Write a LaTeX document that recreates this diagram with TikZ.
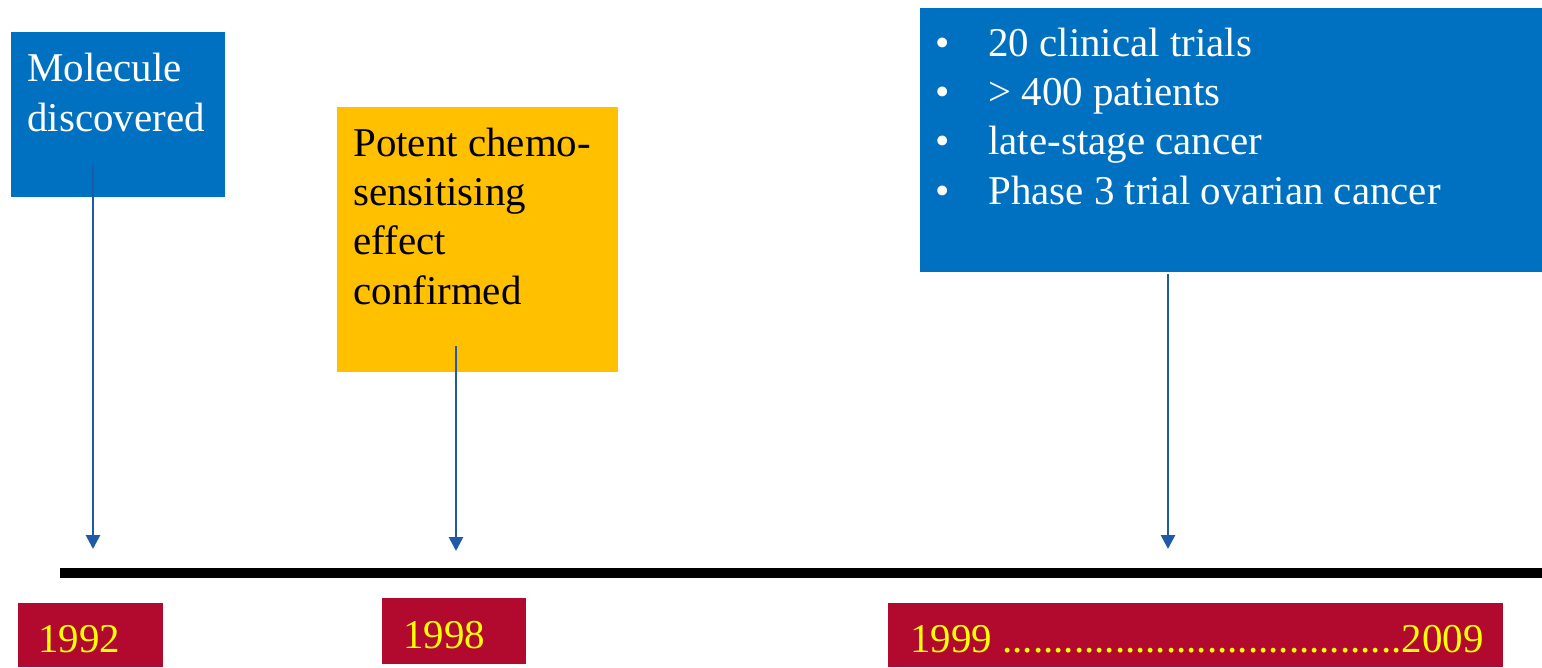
\documentclass[tikz,border=0pt]{standalone}
\usepackage{fontspec}
\setmainfont{Liberation Serif}
\usetikzlibrary{arrows.meta}
\definecolor{boxblue}{RGB}{0,112,192}
\definecolor{boxorange}{RGB}{255,192,0}
\definecolor{yearred}{RGB}{178,9,46}
\definecolor{yearyellow}{RGB}{255,255,0}
\definecolor{arrowblue}{RGB}{31,90,168}
\newcommand{\bul}{\makebox[1.06cm][l]{\textbullet}}

\begin{document}
\begin{tikzpicture}[x=0.02cm, y=-0.02cm, every node/.style={font=\fontsize{23.3}{27.9}\selectfont}]
		\tikzstyle{box}=[anchor=north west, inner sep=0pt, draw=none]
		\tikzstyle{txt}=[anchor=base west, inner sep=0pt, align=left]
		\tikzstyle{yearbox}=[box, fill=yearred]
		\tikzstyle{pointer}=[arrowblue, line width=0.055cm, -{Triangle[length=0.28cm, width=0.28cm]}]
		\useasboundingbox (0,0) rectangle (1542,667);
		\node[box, fill=boxblue, minimum width=4.28cm, minimum height=3.30cm] (molbox) at (11,32) {};
		\node[txt, white] (moltext) at (27,131) {Molecule\\discovered};
		\node[box, fill=boxorange, minimum width=5.62cm, minimum height=5.30cm] (chembox) at (337,107) {};
		\node[txt, black] (chemtext) at (353,304) {Potent chemo-\\sensitising\\effect\\confirmed};
		\node[box, fill=boxblue, minimum width=12.44cm, minimum height=5.28cm] (trialbox) at (920,8) {};
		\node[txt, white] (trialtext) at (935,204) {\bul 20 clinical trials\\\bul > 400 patients\\\bul late-stage cancer\\\bul Phase 3 trial ovarian cancer};
		\coordinate (linestart) at (60,573);
		\coordinate (lineend) at (1542,573);
		\draw[line width=0.21cm] (linestart) -- (lineend);
		\coordinate (moltop) at (93,165);
		\coordinate (molfoot) at (93,549);
		\coordinate (chemtop) at (456,346);
		\coordinate (chemfoot) at (456,551);
		\coordinate (trialtop) at (1168,274);
		\coordinate (trialfoot) at (1168,549);
		\draw[pointer] (moltop) -- (molfoot);
		\draw[pointer] (chemtop) -- (chemfoot);
		\draw[pointer] (trialtop) -- (trialfoot);
		\node[yearbox, minimum width=2.90cm, minimum height=1.28cm] (y1992) at (18,603) {};
		\node[txt, yearyellow] (t1992) at (38,652) {1992};
		\node[yearbox, minimum width=2.88cm, minimum height=1.32cm] (y1998) at (382,598) {};
		\node[txt, yearyellow] (t1998) at (403,648) {1998};
		\node[yearbox, minimum width=12.30cm, minimum height=1.28cm] (y1999) at (888,603) {};
		\node[txt, yearyellow] (t1999) at (910,652) {1999 .......................................2009};
	\end{tikzpicture}
\end{document}
